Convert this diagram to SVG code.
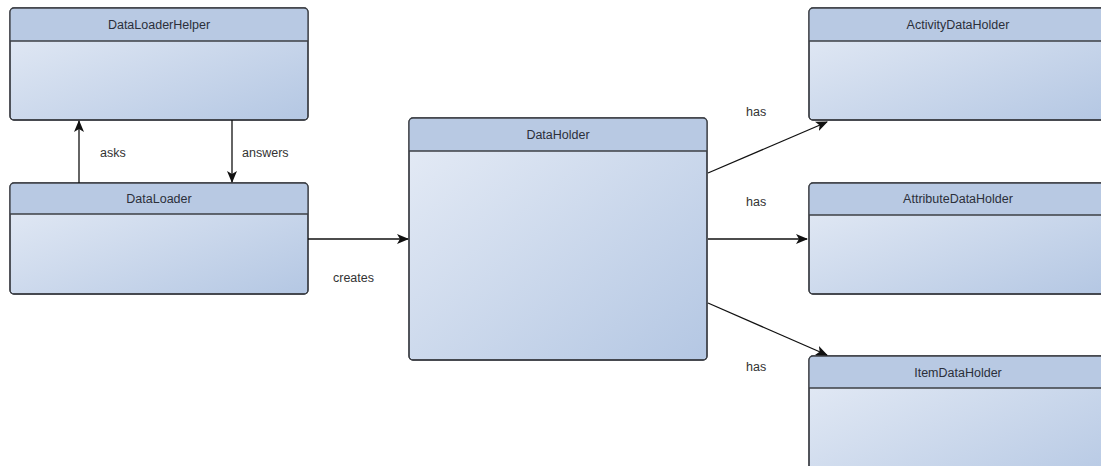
<svg xmlns="http://www.w3.org/2000/svg" width="1101" height="466" viewBox="0 0 1101 466">
  <style>
    .box { fill: url(#bodyFill); stroke: #3c3f45; stroke-width: 1.3; }
    .head { fill: #b8c9e3; }
    .sep { stroke: #3c3f45; stroke-width: 1.3; }
    .title { font-family: "Liberation Sans", Arial, sans-serif; font-size: 12.5px; fill: #2b2f3a; text-anchor: middle; }
    .label { font-family: "Liberation Sans", Arial, sans-serif; font-size: 12.5px; fill: #333; }
    .edge { stroke: #111; stroke-width: 1.3; fill: none; marker-end: url(#arrow); }
  </style>
  <defs>
    <linearGradient id="bodyFill" x1="0" y1="0" x2="1" y2="1">
      <stop offset="0" stop-color="#e6ecf6"/>
      <stop offset="1" stop-color="#b4c7e3"/>
    </linearGradient>
    <marker id="arrow" viewBox="0 0 12 10" refX="11" refY="5" markerWidth="12" markerHeight="10" markerUnits="userSpaceOnUse" orient="auto">
      <path d="M0,0 L12,5 L0,10 L3,5 Z" fill="#111"/>
    </marker>
    <clipPath id="clipHelper"><rect x="10" y="8" width="298" height="112" rx="4"/></clipPath>
    <clipPath id="clipLoader"><rect x="10" y="183" width="298" height="111" rx="4"/></clipPath>
    <clipPath id="clipHolder"><rect x="409" y="118" width="298" height="242" rx="4"/></clipPath>
    <clipPath id="clipActivity"><rect x="809" y="8" width="298" height="112" rx="4"/></clipPath>
    <clipPath id="clipAttribute"><rect x="809" y="183" width="298" height="111" rx="4"/></clipPath>
    <clipPath id="clipItem"><rect x="809" y="356" width="298" height="140" rx="4"/></clipPath>
  </defs>

  <rect width="1101" height="466" fill="#ffffff"/>

  <g id="DataLoaderHelper">
    <rect class="box" x="10" y="8" width="298" height="112" rx="4"/>
    <rect class="head" x="10" y="8" width="298" height="33" clip-path="url(#clipHelper)"/>
    <rect x="10" y="8" width="298" height="112" rx="4" fill="none" stroke="#3c3f45" stroke-width="1.3"/>
    <line class="sep" x1="10" y1="41" x2="308" y2="41"/>
    <text class="title" x="159" y="29">DataLoaderHelper</text>
  </g>

  <g id="DataLoader">
    <rect class="box" x="10" y="183" width="298" height="111" rx="4"/>
    <rect class="head" x="10" y="183" width="298" height="31" clip-path="url(#clipLoader)"/>
    <rect x="10" y="183" width="298" height="111" rx="4" fill="none" stroke="#3c3f45" stroke-width="1.3"/>
    <line class="sep" x1="10" y1="214" x2="308" y2="214"/>
    <text class="title" x="159" y="203">DataLoader</text>
  </g>

  <g id="DataHolder">
    <rect class="box" x="409" y="118" width="298" height="242" rx="4"/>
    <rect class="head" x="409" y="118" width="298" height="33" clip-path="url(#clipHolder)"/>
    <rect x="409" y="118" width="298" height="242" rx="4" fill="none" stroke="#3c3f45" stroke-width="1.3"/>
    <line class="sep" x1="409" y1="151" x2="707" y2="151"/>
    <text class="title" x="558" y="139">DataHolder</text>
  </g>

  <g id="ActivityDataHolder">
    <rect class="box" x="809" y="8" width="298" height="112" rx="4"/>
    <rect class="head" x="809" y="8" width="298" height="33" clip-path="url(#clipActivity)"/>
    <rect x="809" y="8" width="298" height="112" rx="4" fill="none" stroke="#3c3f45" stroke-width="1.3"/>
    <line class="sep" x1="809" y1="41" x2="1107" y2="41"/>
    <text class="title" x="958" y="29">ActivityDataHolder</text>
  </g>

  <g id="AttributeDataHolder">
    <rect class="box" x="809" y="183" width="298" height="111" rx="4"/>
    <rect class="head" x="809" y="183" width="298" height="32" clip-path="url(#clipAttribute)"/>
    <rect x="809" y="183" width="298" height="111" rx="4" fill="none" stroke="#3c3f45" stroke-width="1.3"/>
    <line class="sep" x1="809" y1="215" x2="1107" y2="215"/>
    <text class="title" x="958" y="203">AttributeDataHolder</text>
  </g>

  <g id="ItemDataHolder">
    <rect class="box" x="809" y="356" width="298" height="140" rx="4"/>
    <rect class="head" x="809" y="356" width="298" height="32" clip-path="url(#clipItem)"/>
    <rect x="809" y="356" width="298" height="140" rx="4" fill="none" stroke="#3c3f45" stroke-width="1.3"/>
    <line class="sep" x1="809" y1="388" x2="1107" y2="388"/>
    <text class="title" x="958" y="377">ItemDataHolder</text>
  </g>

  <g id="connectors">
    <line class="edge" x1="79" y1="183" x2="79" y2="121"/>
    <text class="label" x="100" y="157">asks</text>
    <line class="edge" x1="232" y1="120" x2="232" y2="182"/>
    <text class="label" x="242" y="157">answers</text>
    <line class="edge" x1="308" y1="239" x2="408" y2="239"/>
    <text class="label" x="333" y="282">creates</text>
    <line class="edge" x1="708" y1="173" x2="827" y2="122"/>
    <text class="label" x="746" y="116">has</text>
    <line class="edge" x1="708" y1="239" x2="807" y2="239"/>
    <text class="label" x="746" y="206">has</text>
    <line class="edge" x1="708" y1="303" x2="827" y2="355"/>
    <text class="label" x="746" y="371">has</text>
  </g>
</svg>
